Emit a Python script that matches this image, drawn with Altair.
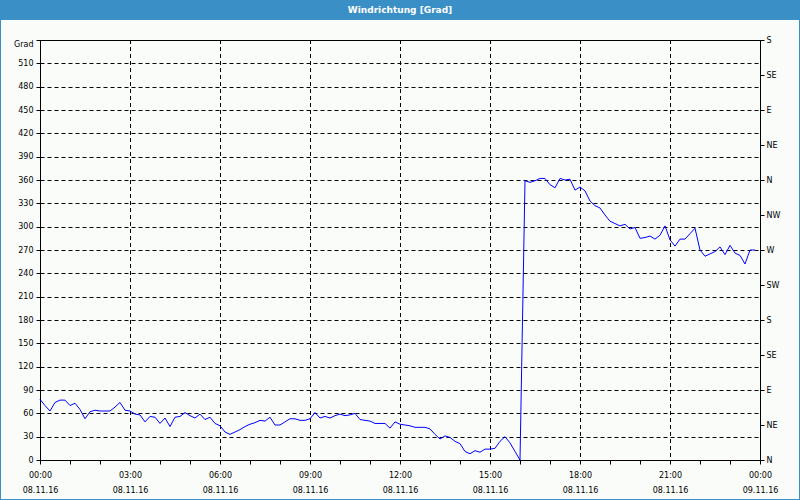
import altair as alt
import pandas as pd

# ---- data (10-minute samples from 08.11.16 00:00) ----
step_minutes = 10
wind_dir = [
    78, 70, 63, 74, 77, 77, 70, 73, 65, 53,
    62, 64, 63, 63, 63, 68, 74, 64, 63, 59,
    58, 49, 56, 55, 47, 54, 43, 55, 56, 61,
    57, 54, 59, 52, 55, 47, 44, 36, 33, 36,
    39, 43, 46, 48, 51, 50, 55, 45, 45, 49,
    53, 53, 51, 51, 53, 61, 54, 56, 54, 57,
    59, 57, 58, 60, 52, 51, 50, 47, 47, 47,
    41, 49, 46, 45, 44, 42, 42, 42, 40, 33,
    27, 31, 29, 24, 21, 11, 8, 12, 10, 14,
    14, 15, 24, 30, 22, 11, 0,
    359, 357, 359,
    362, 362, 354, 350, 362, 360, 361, 347, 351, 346,
    333, 327, 324, 315, 307, 304, 301, 303, 297, 299,
    285, 286, 288, 284, 289, 301, 283, 275, 284, 284,
    291, 298, 270, 262, 265, 268, 274, 264, 276, 266,
    263, 252, 270, 270,
]
hours = [i * step_minutes / 60 for i in range(len(wind_dir))]

left_ticks = list(range(0, 541, 30))
right_ticks = list(range(0, 541, 45))
compass = ["N", "NE", "E", "SE", "S", "SW", "W", "NW"]
hour_ticks = list(range(0, 25))
grid_hours = [3, 6, 9, 12, 15, 18, 21]
date_labels = ["08.11.16", "09.11.16"]
title_text = "Windrichtung [Grad]"
top_label = "Grad"

df = pd.DataFrame({"h": hours, "deg": wind_dir})
grid_df = pd.DataFrame({"h": grid_hours})

FONT = "DejaVu Sans"
BLUE = "#3b8fc7"

x_scale = alt.Scale(domain=[0, 24], nice=False, zero=False)
y_scale = alt.Scale(domain=[0, 540], nice=False)

x_label_expr = (
    "datum.value % 3 === 0 ? "
    "[(datum.value % 24 < 10 ? '0' : '') + (datum.value % 24) + ':00', "
    f"datum.value < 24 ? '{date_labels[0]}' : '{date_labels[1]}'] : ''"
)
compass_js = "[" + ",".join(f"'{c}'" for c in compass) + "]"
right_label_expr = f"{compass_js}[round(datum.value / 45) % 8]"
left_label_expr = f"datum.value == 540 ? '{top_label}' : datum.label"

common_axis = dict(
    tickColor="black", domainColor="black", tickSize=4, labelFont=FONT,
    labelFontSize=8, labelColor="black", labelFlush=False, labelOverlap=False,
    title=None,
)

x_axis = alt.Axis(
    values=hour_ticks, labelExpr=x_label_expr, grid=False,
    labelPadding=7, labelLineHeight=15, labelBaseline="top",
    **common_axis,
)
X = alt.X("h:Q", scale=x_scale, axis=x_axis)

vgrid = alt.Chart(grid_df).mark_rule(
    color="black", strokeDash=[4, 3], strokeWidth=1, xOffset=0.5
).encode(x=X)

line = alt.Chart(df).mark_line(color="#0000ff", strokeWidth=1).encode(
    x=X,
    y=alt.Y(
        "deg:Q", scale=y_scale,
        axis=alt.Axis(
            orient="left", values=left_ticks, labelExpr=left_label_expr,
            grid=True, gridDash=[4, 3], gridColor="black", gridOpacity=1,
            labelPadding=3,
            labelBaseline={"condition": {"test": "datum.value == 540", "value": "top"},
                           "value": "middle"},
            **common_axis,
        ),
    ),
)

right = alt.Chart(df).mark_line(opacity=0).encode(
    x=X,
    y=alt.Y(
        "deg:Q", scale=y_scale,
        axis=alt.Axis(
            orient="right", values=right_ticks, labelExpr=right_label_expr,
            grid=False, labelPadding=2, **common_axis,
        ),
    ),
)

deco = alt.Data(values=[{"k": 1}])
title_bar = alt.Chart(deco).mark_rect(color=BLUE).encode(
    x=alt.value(-40), x2=alt.value(760), y=alt.value(-40), y2=alt.value(-20)
)
border = alt.Chart(deco).mark_rect(
    fillOpacity=0, stroke=BLUE, strokeWidth=2
).encode(x=alt.value(-40), x2=alt.value(760), y=alt.value(-40), y2=alt.value(460))

chart = (
    alt.layer(vgrid, line, right, title_bar, border)
    .resolve_axis(y="independent")
    .properties(
        width=720,
        height=420,
        padding={"left": 40, "top": 40, "right": 40, "bottom": 40},
        autosize=alt.AutoSizeParams(type="none"),
        background="#fafcfa",
        title=alt.TitleParams(
            title_text, color="white", font=FONT, fontSize=9,
            fontWeight="bold", anchor="middle", baseline="alphabetic",
            offset=-23, zindex=1,
        ),
    )
    .configure_view(stroke="black", strokeWidth=1)
)

chart.save("out.html", embed_options={"renderer": "svg", "actions": False})
